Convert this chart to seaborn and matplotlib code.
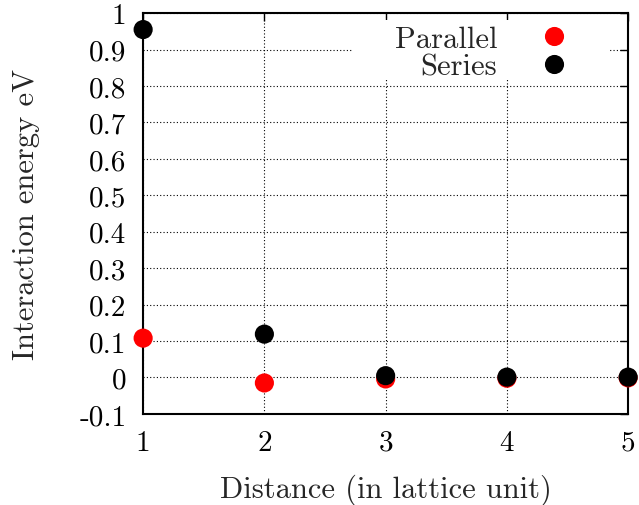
import numpy as np
import pandas as pd
import matplotlib
matplotlib.use("Agg")
import matplotlib.pyplot as plt
from matplotlib.patches import Rectangle
import seaborn as sns

# values
distance = [1, 2, 3, 4, 5]
parallel = [0.108, -0.015, -0.004, -0.002, -0.001]
series = [0.955, 0.119, 0.005, 0.001, 0.001]

xticks = [1, 2, 3, 4, 5]
yticks = [-0.1, 0, 0.1, 0.2, 0.3, 0.4, 0.5, 0.6, 0.7, 0.8, 0.9, 1]
ytick_labels = ["-0.1", "0", "0.1", "0.2", "0.3", "0.4", "0.5", "0.6", "0.7", "0.8", "0.9", "1"]

df = pd.DataFrame({
    "Distance": distance * 2,
    "Energy": parallel + series,
    "Type": ["Parallel"] * 5 + ["Series"] * 5,
})

sns.set_style("white")
plt.rcParams["font.family"] = ["cmr10", "DejaVu Serif"]
plt.rcParams["axes.formatter.use_mathtext"] = True

fig = plt.figure(figsize=(6.39, 5.06), dpi=100)
ax = fig.add_axes([0.224, 0.18, 0.759, 0.792])

sns.scatterplot(data=df, x="Distance", y="Energy", hue="Type",
                palette={"Parallel": "#ff0000", "Series": "#000000"},
                s=190, edgecolor="none", ax=ax, clip_on=False, zorder=3)

ax.set_xlim(1, 5)
ax.set_ylim(-0.1, 1)
ax.set_xticks(xticks)
ax.set_xticklabels([str(v) for v in xticks])
ax.set_yticks(yticks)
ax.set_yticklabels(ytick_labels)
ax.tick_params(direction="in", length=6, width=1, top=True, right=True,
               labelsize=21, colors="black")
ax.tick_params(axis="x", pad=11)
ax.tick_params(axis="y", pad=12)
ax.grid(True, linestyle=(0, (1, 2)), color="black", linewidth=0.8)
for sp in ax.spines.values():
    sp.set_linewidth(1.5)
    sp.set_color("black")

ax.set_xlabel("Distance (in lattice unit)", fontsize=22, labelpad=13)
ax.set_ylabel("Interaction energy eV", fontsize=22, labelpad=28)

# white key box hiding the grid behind the legend (ticks stay visible)
ax.add_patch(Rectangle((0.433, 0.833), 0.53, 0.15, transform=ax.transAxes,
                       facecolor="white", edgecolor="none", zorder=2))

# legend: text right-aligned, markers on the right
leg = ax.legend(loc="upper right", bbox_to_anchor=(0.963, 1.0),
                markerfirst=False, fontsize=22, frameon=False,
                handlelength=2.9, handletextpad=0.4,
                borderpad=0.4, borderaxespad=0.0,
                labelspacing=0.0, markerscale=1.0)
for t in leg.get_texts():
    t.set_ha("right")
leg.set_zorder(4)

fig.savefig("out.png", dpi=100)
